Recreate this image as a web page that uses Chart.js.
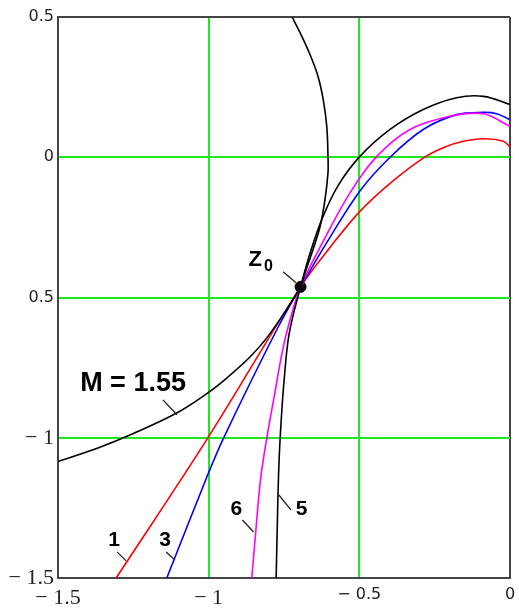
<!DOCTYPE html>
<html>
<head>
<meta charset="utf-8">
<script src="https://cdn.jsdelivr.net/npm/chart.js@4/dist/chart.umd.min.js"></script>
<style>
html,body{margin:0;padding:0;background:#fff;}
#wrap{width:519px;height:608px;}
</style>
</head>
<body>
<div id="wrap"><canvas id="c" width="519" height="608"></canvas></div>
<script>
// Tick labels
const xTickValues = [-1.5, -1, -0.5, 0];
const xTickLabels = ['\u2212 1.5', '\u2212 1', '\u2212 0.5', '0'];
const yTickValues = [0.5, 0, -0.5, -1, -1.5];
const yTickLabels = ['0.5', '0', '0.5', '\u2212 1', '\u2212 1.5'];

// Curve 1 (red)
const c1x = [-1.307, -1.0, -0.695, -0.6, -0.498, -0.398, -0.288, -0.22, -0.155, -0.088, -0.022, 0];
const c1y = [-1.5, -0.996, -0.462, -0.325, -0.193, -0.093, -0.003, 0.035, 0.057, 0.066, 0.057, 0.037];
// Curve 3 (blue)
const c3x = [-1.139, -1.006, -0.951, -0.774, -0.695, -0.6, -0.498, -0.398, -0.288, -0.177, -0.088, -0.044, 0];
const c3y = [-1.5, -1.14, -1.002, -0.615, -0.462, -0.29, -0.12, 0.0, 0.099, 0.152, 0.160, 0.155, 0.134];
// Curve 6 (magenta)
const c6x = [-0.857, -0.845, -0.828, -0.807, -0.782, -0.757, -0.735, -0.695, -0.62, -0.531, -0.442, -0.332, -0.199, -0.088, 0];
const c6y = [-1.5, -1.35, -1.15, -1.0, -0.85, -0.70, -0.60, -0.462, -0.30, -0.127, 0.003, 0.099, 0.146, 0.155, 0.110];
// Curve 5 (black)
const c5x = [-0.776, -0.772, -0.767, -0.760, -0.750, -0.733, -0.695, -0.66, -0.62, -0.57, -0.498, -0.398, -0.288, -0.177, -0.088, 0];
const c5y = [-1.5, -1.3, -1.1, -0.95, -0.80, -0.63, -0.462, -0.33, -0.21, -0.10, 0.003, 0.099, 0.170, 0.212, 0.217, 0.188];
// M = 1.55 curve (black)
const mx = [-1.5, -1.361, -1.25, -1.106, -1.006, -0.951, -0.863, -0.796, -0.695, -0.680, -0.654, -0.630, -0.614, -0.604, -0.604, -0.608, -0.620, -0.637, -0.662, -0.697, -0.723];
const my = [-1.085, -1.034, -0.985, -0.912, -0.843, -0.797, -0.712, -0.628, -0.462, -0.412, -0.330, -0.246, -0.151, -0.055, 0.002, 0.109, 0.206, 0.288, 0.362, 0.445, 0.5];
// Point Z0
const z0x = [-0.695];
const z0y = [-0.462];

// Annotation labels: text, x, y (data coords), leader line endpoints
const labelTexts = ['M = 1.55', '1', '3', '6', '5'];
const labelX = [-1.251, -1.314, -1.145, -0.908, -0.692];
const labelY = [-0.805, -1.365, -1.365, -1.255, -1.255];
const leadX1 = [-1.152, -1.304, -1.141, -0.888, -0.767];
const leadY1 = [-0.865, -1.407, -1.407, -1.293, -1.204];
const leadX2 = [-1.105, -1.274, -1.112, -0.851, -0.727];
const leadY2 = [-0.918, -1.439, -1.436, -1.336, -1.257];
const labelSizes = [27, 21, 21, 21, 21];

const pts = (xs, ys) => xs.map((x, i) => ({x: x, y: ys[i]}));
const near = (a, b) => Math.abs(a - b) < 1e-9;
const isSerif = (v) => near(v, -1) || near(v, -1.5);

function line(xs, ys, color) {
  return {data: pts(xs, ys), showLine: true, borderColor: color, borderWidth: 1.6,
    pointRadius: 0, tension: 0.35, fill: false};
}

const labelsPlugin = {
  id: 'labels',
  afterDatasetsDraw(chart) {
    const ctx = chart.ctx, xs = chart.scales.x, ys = chart.scales.y;
    ctx.save();
    ctx.fillStyle = '#000';
    ctx.strokeStyle = '#222';
    ctx.lineWidth = 1.3;
    ctx.textAlign = 'center';
    ctx.textBaseline = 'middle';
    for (let i = 0; i < labelTexts.length; i++) {
      ctx.font = 'bold ' + labelSizes[i] + 'px "Liberation Sans", Arial, sans-serif';
      ctx.fillText(labelTexts[i], xs.getPixelForValue(labelX[i]), ys.getPixelForValue(labelY[i]));
      ctx.beginPath();
      ctx.moveTo(xs.getPixelForValue(leadX1[i]), ys.getPixelForValue(leadY1[i]));
      ctx.lineTo(xs.getPixelForValue(leadX2[i]), ys.getPixelForValue(leadY2[i]));
      ctx.stroke();
    }
    // Z0 label
    const zx = xs.getPixelForValue(-0.868), zy = ys.getPixelForValue(-0.386);
    ctx.textAlign = 'left';
    ctx.textBaseline = 'alphabetic';
    ctx.font = 'bold 22px "Liberation Sans", Arial, sans-serif';
    ctx.fillText('Z', zx, zy);
    const zw = ctx.measureText('Z').width;
    ctx.font = 'bold 16px "Liberation Sans", Arial, sans-serif';
    ctx.fillText('0', zx + zw + 2, zy + 5);
    ctx.beginPath();
    ctx.moveTo(xs.getPixelForValue(-0.753), ys.getPixelForValue(-0.408));
    ctx.lineTo(xs.getPixelForValue(-0.710), ys.getPixelForValue(-0.447));
    ctx.stroke();
    ctx.restore();
  }
};

const edgeColor = '#444';
const gridGreen = '#1ee81e';

new Chart(document.getElementById('c'), {
  type: 'scatter',
  data: {
    datasets: [
      line(mx, my, '#000000'),
      line(c5x, c5y, '#000000'),
      line(c6x, c6y, '#ff00ff'),
      line(c3x, c3y, '#0000ff'),
      line(c1x, c1y, '#ff0000'),
      {data: pts(z0x, z0y), pointRadius: 5.5, pointBackgroundColor: '#000', pointBorderColor: '#000', showLine: false}
    ]
  },
  options: {
    responsive: false,
    animation: false,
    events: [],
    layout: {padding: {top: 17, right: 9, left: 0, bottom: 0}},
    plugins: {legend: {display: false}, tooltip: {enabled: false}},
    scales: {
      x: {
        type: 'linear', min: -1.5, max: 0,
        afterFit: (s) => { s.height = 30; s.paddingLeft = 0; s.paddingRight = 0; },
        border: {display: true, color: edgeColor, width: 2},
        grid: {
          drawTicks: false,
          lineWidth: 2,
          color: (c) => (c.tick && (near(c.tick.value, -1.5) || near(c.tick.value, 0))) ? edgeColor : gridGreen
        },
        ticks: {
          stepSize: 0.5,
          padding: 7,
          maxRotation: 0,
          color: '#222',
          font: (c) => (c.tick && isSerif(c.tick.value)) ? {family: '"Liberation Serif", "Times New Roman", serif', size: 22} : {family: '"DejaVu Sans", sans-serif', size: 16},
          callback: (v) => { const i = xTickValues.findIndex(t => near(t, v)); return i >= 0 ? xTickLabels[i] : ''; }
        }
      },
      y: {
        type: 'linear', min: -1.5, max: 0.5,
        afterFit: (s) => { s.width = 58; s.paddingTop = 0; s.paddingBottom = 0; },
        border: {display: true, color: edgeColor, width: 2},
        grid: {
          drawTicks: false,
          lineWidth: 2,
          color: (c) => (c.tick && (near(c.tick.value, 0.5) || near(c.tick.value, -1.5))) ? edgeColor : gridGreen
        },
        ticks: {
          stepSize: 0.5,
          padding: 4,
          color: '#222',
          font: (c) => (c.tick && isSerif(c.tick.value)) ? {family: '"Liberation Serif", "Times New Roman", serif', size: 22} : {family: '"DejaVu Sans", sans-serif', size: 16},
          callback: (v) => { const i = yTickValues.findIndex(t => near(t, v)); return i >= 0 ? yTickLabels[i] : ''; }
        }
      }
    }
  },
  plugins: [labelsPlugin]
});
</script>
</body>
</html>
